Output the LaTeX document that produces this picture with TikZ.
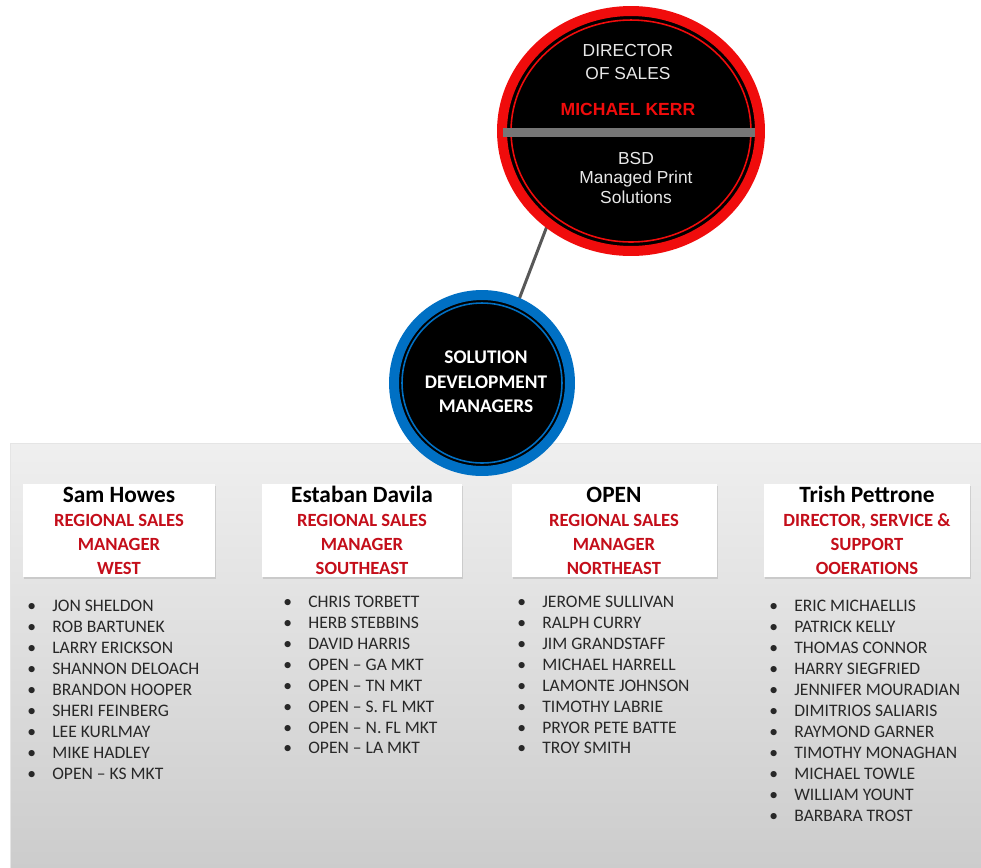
\documentclass[tikz,border=0pt]{standalone}
\usepackage{fontspec}
\setmainfont{Carlito}
\newfontfamily\arialschrift{Liberation Sans}
\usepackage{tikz}
\usetikzlibrary{shapes.geometric,shadows,backgrounds}

\definecolor{ringrot}{RGB}{240,12,12}
\definecolor{ringblau}{RGB}{0,112,196}
\definecolor{balkengrau}{RGB}{118,118,118}
\definecolor{linie}{RGB}{88,88,88}
\definecolor{rollerot}{RGB}{196,14,26}
\definecolor{listentext}{RGB}{40,40,40}
\definecolor{kreistext}{RGB}{232,232,232}
\definecolor{flaecheoben}{RGB}{239,239,239}
\definecolor{flaecheunten}{RGB}{204,204,204}

\begin{document}
\begin{tikzpicture}[x=0.02cm,y=-0.02cm,
    kasten/.style={rectangle,fill=white,inner sep=0pt,minimum height=1.86cm,align=center,
      text=rollerot,font=\bfseries\fontsize{10.6}{13.7}\selectfont,
      drop shadow={shadow xshift=0.8pt,shadow yshift=-1.2pt,opacity=0.25}},
    eintrag/.style={anchor=west,inner sep=0pt,text=listentext,
      font=\fontsize{10}{11}\selectfont,
      execute at begin node={\makebox[0.5cm][l]{\textbullet}}},
    kreisschrift/.style={text=kreistext,inner sep=0pt,align=center}]
\useasboundingbox (0,0) rectangle (981,867);
%Mittelpunkte in Pixeln (1px = 0.02cm)
\pgfmathsetmacro{\lx}{631}
\pgfmathsetmacro{\ly}{131}
\pgfmathsetmacro{\sx}{482}
\pgfmathsetmacro{\sy}{383}

%Leiter oben
\node[ellipse,fill=black,draw=ringrot,line width=0.2cm,inner sep=0pt,outer sep=0pt,
  minimum width=5.16cm,minimum height=4.8cm] (leiter) at (\lx,\ly) {};
\draw[ringrot,line width=0.9pt] (leiter.center) ellipse [x radius=2.4cm,y radius=2.22cm];
\fill[balkengrau] (503,128) rectangle (755,137);
\node[kreisschrift,font=\arialschrift\fontsize{9.9}{13.1}\selectfont] (titel) at (628,62) {DIRECTOR\\OF SALES};
\node[kreisschrift,text=ringrot,font=\arialschrift\bfseries\fontsize{10}{12}\selectfont] (kerr) at (628,109) {MICHAEL KERR};
\node[kreisschrift,font=\arialschrift\fontsize{9.9}{11.3}\selectfont] (bsd) at (636,178) {BSD\\Managed Print\\Solutions};

%Solution Development Managers
\node[circle,fill=black,draw=ringblau,line width=0.2cm,inner sep=0pt,outer sep=0pt,
  minimum size=3.52cm] (sdm) at (\sx,\sy) {};
\draw[ringblau,line width=0.9pt] (sdm.center) circle [radius=1.6cm];
\node[kreisschrift,text=white,font=\bfseries\fontsize{11}{13.9}\selectfont] (sdmtext) at (486,382) {SOLUTION\\DEVELOPMENT\\MANAGERS};

%Hintergrund und Verbindung
\begin{scope}[on background layer]
\shade[top color=flaecheoben,bottom color=flaecheunten,draw=black!10] (10,443) rectangle (985,870);
\draw[linie,line width=1.7pt] (leiter.228) -- (sdm.66);
\end{scope}

%Kaesten der Regionen
\foreach \x/\w/\name/\rolle [count=\i] in {
  119/192/Sam Howes/{REGIONAL SALES\\MANAGER\\WEST},
  362/200/Estaban Davila/{REGIONAL SALES\\MANAGER\\SOUTHEAST},
  614/205/OPEN/{REGIONAL SALES\\MANAGER\\NORTHEAST},
  867/206/Trish Pettrone/{DIRECTOR, SERVICE \&\\SUPPORT\\OOERATIONS}}{
\node[kasten,minimum width=\w*0.02cm] (kasten\i) at (\x,530.5)
  {{\color{black}\fontsize{13.3}{13.7}\selectfont\name}\\\rolle};
}

%Listen
\foreach \n [count=\i from 0] in {JON SHELDON,ROB BARTUNEK,LARRY ERICKSON,SHANNON DELOACH,
  BRANDON HOOPER,SHERI FEINBERG,LEE KURLMAY,MIKE HADLEY,OPEN -- KS MKT}
  \node[eintrag] (west\i) at (27,606+21*\i) {\n};
\foreach \n [count=\i from 0] in {CHRIS TORBETT,HERB STEBBINS,DAVID HARRIS,OPEN -- GA MKT,
  OPEN -- TN MKT,OPEN -- S. FL MKT,OPEN -- N. FL MKT,OPEN -- LA MKT}
  \node[eintrag] (suedost\i) at (283,602+20.9*\i) {\n};
\foreach \n [count=\i from 0] in {JEROME SULLIVAN,RALPH CURRY,JIM GRANDSTAFF,MICHAEL HARRELL,
  LAMONTE JOHNSON,TIMOTHY LABRIE,PRYOR PETE BATTE,TROY SMITH}
  \node[eintrag] (nordost\i) at (517,602+20.9*\i) {\n};
\foreach \n [count=\i from 0] in {ERIC MICHAELLIS,PATRICK KELLY,THOMAS CONNOR,HARRY SIEGFRIED,
  JENNIFER MOURADIAN,DIMITRIOS SALIARIS,RAYMOND GARNER,TIMOTHY MONAGHAN,MICHAEL TOWLE,
  WILLIAM YOUNT,BARBARA TROST}
  \node[eintrag] (service\i) at (769,606+21*\i) {\n};
\end{tikzpicture}
\end{document}
